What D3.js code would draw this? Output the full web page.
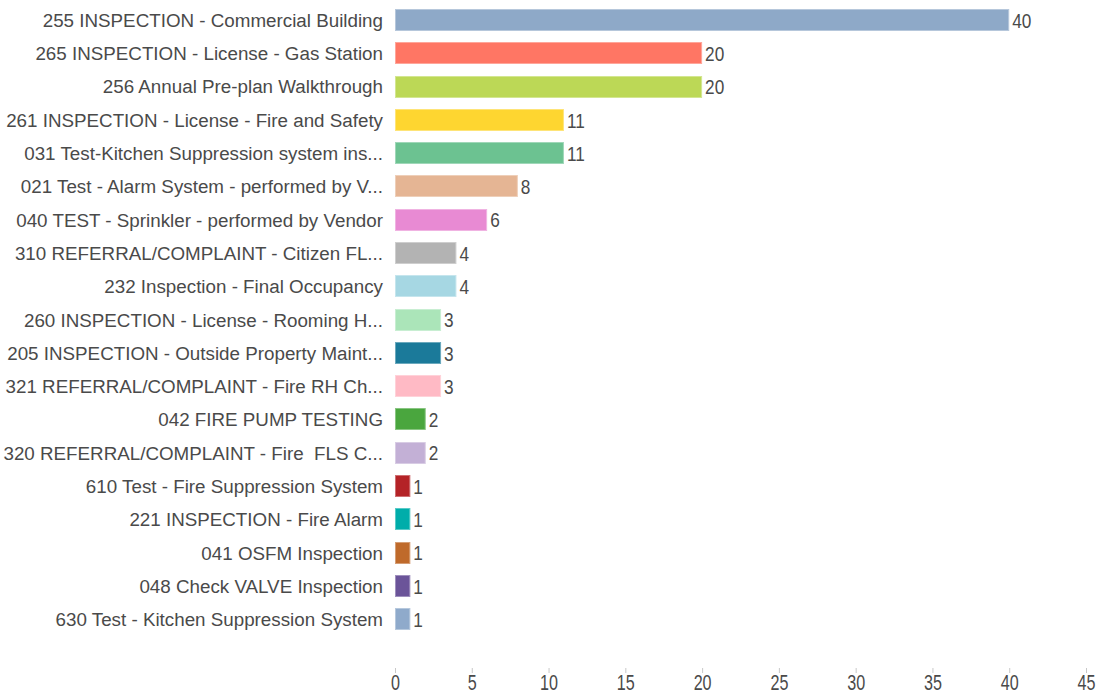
<!DOCTYPE html>
<html>
<head>
<meta charset="utf-8">
<script src="https://cdn.jsdelivr.net/npm/d3@7"></script>
<style>
  body { margin: 0; background: #fff; }
  svg text { font-family: "Liberation Sans", Arial, sans-serif; fill: #4a4a4a; white-space: pre; }
</style>
</head>
<body>
<svg id="chart" width="1104" height="694"></svg>
<script>
var categories = [
    '255 INSPECTION - Commercial Building',
    '265 INSPECTION - License - Gas Station',
    '256 Annual Pre-plan Walkthrough',
    '261 INSPECTION - License - Fire and Safety',
    '031 Test-Kitchen Suppression system ins...',
    '021 Test - Alarm System - performed by V...',
    '040 TEST - Sprinkler - performed by Vendor',
    '310 REFERRAL/COMPLAINT - Citizen FL...',
    '232 Inspection - Final Occupancy',
    '260 INSPECTION - License - Rooming H...',
    '205 INSPECTION - Outside Property Maint...',
    '321 REFERRAL/COMPLAINT - Fire RH Ch...',
    '042 FIRE PUMP TESTING',
    '320 REFERRAL/COMPLAINT - Fire  FLS C...',
    '610 Test - Fire Suppression System',
    '221 INSPECTION - Fire Alarm',
    '041 OSFM Inspection',
    '048 Check VALVE Inspection',
    '630 Test - Kitchen Suppression System'
];
var counts = [40, 20, 20, 11, 11, 8, 6, 4, 4, 3, 3, 3, 2, 2, 1, 1, 1, 1, 1];
var colors = [
    '#8ea9c8', '#ff7664', '#bcd856', '#fed630', '#6cc291', '#e5b594',
    '#e88ad3', '#b3b3b3', '#a6d7e3', '#abe5b9', '#1b7a9a', '#ffbac5',
    '#4aa63e', '#c3b0d6', '#b42327', '#00adaa', '#bf6a2b', '#6b5499', '#8faacb'
];
var xTicks = [0, 5, 10, 15, 20, 25, 30, 35, 40, 45];

var svg = d3.select('#chart');

var x = d3.scaleLinear().domain([0, 45]).range([395, 1086]);
var y = d3.scaleBand().domain(categories).range([3.5, 636])
    .paddingInner(0.33).paddingOuter(0.165);

function mid(d) { return y(d) + y.bandwidth() / 2; }

// bars
svg.append('g').selectAll('rect')
    .data(categories).enter()
    .append('rect')
    .attr('x', x(0) + 0.5)
    .attr('y', function(d) { return Math.round(y(d)) + 0.5; })
    .attr('width', function(d, i) { return x(counts[i]) - x(0) - 1; })
    .attr('height', Math.round(y.bandwidth()) - 1)
    .attr('fill', function(d, i) { return colors[i]; })
    .attr('stroke', function(d, i) { return d3.interpolateRgb(colors[i], '#fff')(0.35); })
    .attr('stroke-width', 1);

// category labels
svg.append('g').selectAll('text')
    .data(categories).enter()
    .append('text')
    .attr('x', 383)
    .attr('y', mid)
    .attr('dy', '0.36em')
    .attr('text-anchor', 'end')
    .style('font-size', '18.8px')
    .text(function(d) { return d; });

// value labels (narrow, tall digits)
svg.append('g').selectAll('text')
    .data(categories).enter()
    .append('text')
    .attr('transform', function(d, i) {
        return 'translate(' + (x(counts[i]) + 3) + ',' + mid(d) + ') scale(0.82,1)';
    })
    .attr('dy', '0.36em')
    .style('font-size', '21px')
    .text(function(d, i) { return counts[i]; });

// x axis
var axis = svg.append('g')
    .attr('transform', 'translate(0,668)')
    .call(d3.axisBottom(x).tickValues(xTicks).tickSize(5).tickPadding(0));
axis.select('.domain').remove();
axis.selectAll('line').attr('stroke', '#c8c8c8');
axis.selectAll('text')
    .attr('y', null).attr('dy', null)
    .attr('transform', 'translate(0,22) scale(0.75,1)')
    .style('font-size', '21.5px')
    .style('fill', '#4a4a4a')
    .style('font-family', '"Liberation Sans", Arial, sans-serif');
</script>
</body>
</html>
